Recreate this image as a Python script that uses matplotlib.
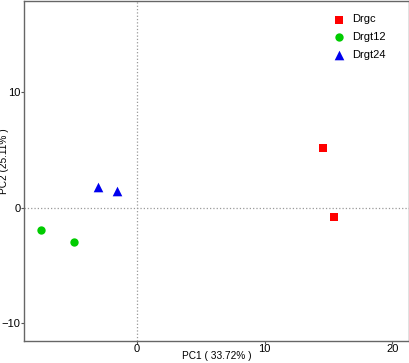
import matplotlib
matplotlib.use("Agg")
import matplotlib.pyplot as plt

plt.rcParams["font.family"] = ["Liberation Sans", "DejaVu Sans"]

# PCA scores
GROUPS = ["Drgc", "Drgt12", "Drgt24"]
PC1 = [[14.57, 15.45], [-7.53, -4.95], [-3.08, -1.54]]
PC2 = [[5.12, -0.84], [-1.9, -3.0], [1.75, 1.4]]
COLORS = ["#ff0000", "#00cc00", "#0000ee"]
MARKERS = ["s", "o", "^"]
XTICKS = [0, 10, 20]
YTICKS = [-10, 0, 10]

fig = plt.figure(figsize=(4.1, 3.63), dpi=100)
ax = fig.add_axes([0.059, 0.061, 0.938, 0.936])

ax.axvline(0, color="#999999", linestyle=":", linewidth=0.9, zorder=1)
ax.axhline(0, color="#999999", linestyle=":", linewidth=0.9, zorder=1)

for name, xs, ys, c, m in zip(GROUPS, PC1, PC2, COLORS, MARKERS):
    size = 48 if m == "^" else 36
    ax.scatter(xs, ys, s=size, c=c, marker=m, label=name, zorder=3, linewidths=0)

ax.set_xlim(-8.85, 21.3)
ax.set_ylim(-11.5, 17.8)
ax.set_xticks(XTICKS)
ax.set_yticks(YTICKS)
ax.tick_params(labelsize=8, length=2, width=0.8, color="#555555", pad=0.5)
for s in ax.spines.values():
    s.set_color("#666666")
    s.set_linewidth(1.0)

ax.set_xlabel("PC1 ( 33.72% )", fontsize=7.3)
ax.set_ylabel("PC2 (25.11% )", fontsize=7.3)
ax.xaxis.set_label_coords(0.5, -0.031)
ax.yaxis.set_label_coords(-0.04, 0.53)

ax.legend(loc="upper right", frameon=False, fontsize=8, handletextpad=0.2,
          labelspacing=0.7, borderaxespad=0.8, bbox_to_anchor=(0.975, 1.0))

fig.savefig("out.png", dpi=100)
